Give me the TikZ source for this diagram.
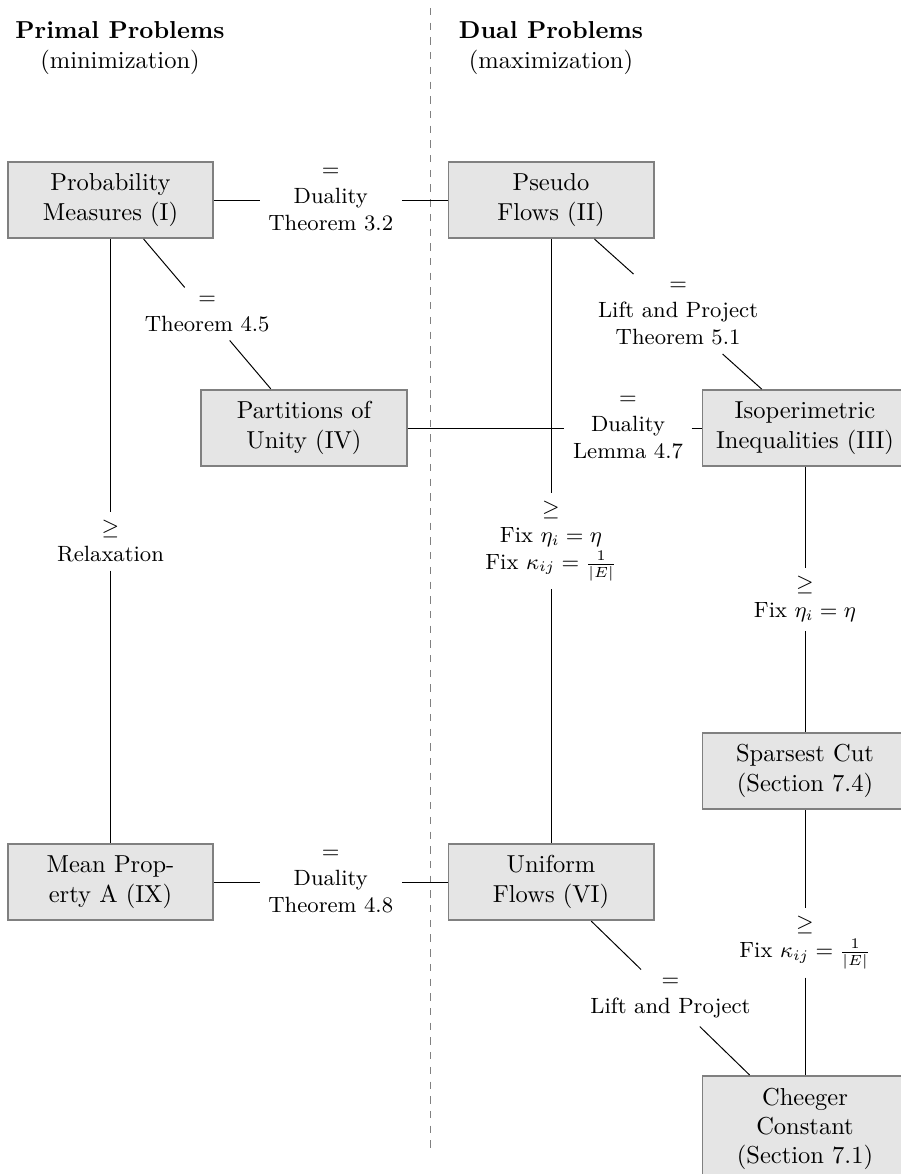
\documentclass[tikz,border=0pt]{standalone}
\usepackage{tikz,color}

\tikzset{
  box/.style={draw=gray, line width=0.8pt, fill=gray!20, text width=77pt,
    align=center, inner xsep=3.33pt, inner ysep=4.8pt},
  elabel/.style={font=\small, align=center},
  head/.style={align=center}
}

\begin{document}
\begin{tikzpicture}[x=0.408pt, y=-0.408pt]

\useasboundingbox (0,0) rectangle (901,1174);

% primal / dual split
\coordinate (divtop) at (430,8);
\coordinate (divbot) at (430,1155);
\draw [gray, dashed] (divtop) -- (divbot);

\node (primal) at (120,48) [head] {\textbf{Primal Problems}\\(minimization)};
\node (dual) at (551,48) [head] {\textbf{Dual Problems}\\(maximization)};

\node (prob) at (110.5,200) [box] {Probability\\Measures (I)};
\node (pseudo) at (551,200) [box] {Pseudo\\Flows (II)};
\node (part) at (304,428) [box] {Partitions of\\Unity (IV)};
\node (iso) at (805,428) [box] {Isoperimetric\\Inequalities (III)};
\node (sparse) at (805,771) [box] {Sparsest Cut\\(Section 7.4)};
\node (mean) at (110.5,882) [box] {Mean Prop-\\erty A (IX)};
\node (unif) at (551,882) [box] {Uniform\\Flows (VI)};
\node (cheeger) at (805,1075) [box, anchor=north] {Cheeger\\Constant\\(Section 7.1)};

% labels sit on the connectors
\path (prob) -- node [elabel] (lpp) {$=$\\Duality\\Theorem 3.2} (pseudo);
\path (prob) -- node [elabel] (lpa) {$=$\\Theorem 4.5} (part);
\path (prob) -- node [elabel] (lpm) {$\geq$\\Relaxation} (mean);
\path (pseudo) -- node [elabel] (lpi) {$=$\\Lift and Project\\Theorem 5.1} (iso);
\path (pseudo) -- node [elabel] (lpu) {$\geq$\\Fix $\eta_i = \eta$\\Fix $\kappa_{ij} = \frac{1}{|E|}$} (unif);
\path (part) -- node [elabel, pos=0.75] (lai) {$=$\\Duality\\Lemma 4.7} (iso);
\path (iso) -- node [elabel] (lis) {$\geq$\\Fix $\eta_i = \eta$} (sparse);
\path (sparse) -- node [elabel] (lsc) {$\geq$\\Fix $\kappa_{ij} = \frac{1}{|E|}$} (cheeger);
\path (mean) -- node [elabel] (lmu) {$=$\\Duality\\Theorem 4.8} (unif);
\path (unif) -- node [elabel] (luc) {$=$\\Lift and Project} (cheeger);

\draw (prob) -- (lpp) -- (pseudo);
\draw (prob) -- (lpa) -- (part);
\draw (prob) -- (lpm) -- (mean);
\draw (pseudo) -- (lpi) -- (iso);
\draw (pseudo) -- (lpu) -- (unif);
\draw (part) -- (lai) -- (iso);
\draw (iso) -- (lis) -- (sparse);
\draw (sparse) -- (lsc) -- (cheeger);
\draw (mean) -- (lmu) -- (unif);
\draw (unif) -- (luc) -- (cheeger);

\end{tikzpicture}
\end{document}
